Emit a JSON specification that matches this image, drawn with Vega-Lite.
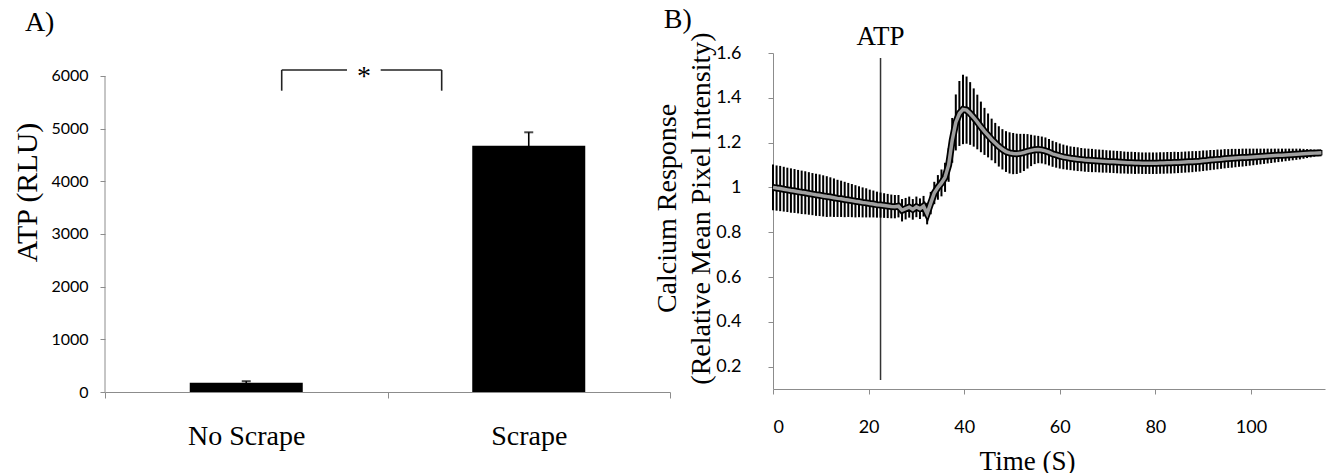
{
"$schema": "https://vega.github.io/schema/vega-lite/v6.json",
"background": "white",
"padding": {"left": 12, "top": 6, "right": 0, "bottom": 0},
"spacing": -18,
"config": {
  "view": {"stroke": null},
  "font": "Liberation Serif",
  "axis": {"grid": false, "domainColor": "#8c8c8c", "tickColor": "#8c8c8c", "labelColor": "black", "titleColor": "black", "labelFont": "Lato", "titleFont": "Liberation Serif", "titleFontWeight": "normal"},
  "title": {"font": "Liberation Serif", "fontWeight": "normal", "fontSize": 28, "anchor": "start", "color": "black"}
},
"datasets": {
  "bars": [{"c": "No Scrape", "v": 175, "e": 30}, {"c": "Scrape", "v": 4677, "e": 254}],
  "axisline": [{"x": 0, "y": 0, "y2": 6000}],
  "bracket": [
    {"x": 0.6255, "x2": 0.8566, "y": 6114, "y2": 6114},
    {"x": 0.9759, "x2": 1.1918, "y": 6114, "y2": 6114},
    {"x": 0.6255, "x2": 0.6255, "y": 5721, "y2": 6114},
    {"x": 1.1918, "x2": 1.1918, "y": 5721, "y2": 6114}
  ],
  "star": [{"x": 0.9168, "y": 6057, "s": "*"}],
  "atp": [{"t": 22.5, "lo": 0.14, "hi": 1.578, "top": 1.6, "label": "ATP"}],
  "series": [
    {"t":0,"m":1.000,"e":0.102},{"t":0.75,"m":0.997,"e":0.101},{"t":1.5,"m":0.995,"e":0.101},{"t":2.25,"m":0.992,"e":0.100},
    {"t":3,"m":0.989,"e":0.099},{"t":3.75,"m":0.986,"e":0.099},{"t":4.5,"m":0.984,"e":0.098},{"t":5.25,"m":0.981,"e":0.097},
    {"t":6,"m":0.978,"e":0.097},{"t":6.75,"m":0.976,"e":0.096},{"t":7.5,"m":0.973,"e":0.095},{"t":8.25,"m":0.970,"e":0.094},
    {"t":9,"m":0.967,"e":0.094},{"t":9.75,"m":0.965,"e":0.093},{"t":10.5,"m":0.962,"e":0.092},{"t":11.25,"m":0.959,"e":0.091},
    {"t":12,"m":0.957,"e":0.088},{"t":12.75,"m":0.954,"e":0.086},{"t":13.5,"m":0.951,"e":0.083},{"t":14.25,"m":0.949,"e":0.081},
    {"t":15,"m":0.946,"e":0.079},{"t":15.75,"m":0.944,"e":0.076},{"t":16.5,"m":0.941,"e":0.074},{"t":17.25,"m":0.938,"e":0.072},
    {"t":18,"m":0.936,"e":0.069},{"t":18.75,"m":0.933,"e":0.067},{"t":19.5,"m":0.931,"e":0.065},{"t":20.25,"m":0.928,"e":0.062},
    {"t":21,"m":0.926,"e":0.060},{"t":21.75,"m":0.923,"e":0.058},{"t":22.5,"m":0.921,"e":0.056},{"t":23.25,"m":0.919,"e":0.055},
    {"t":24,"m":0.917,"e":0.054},{"t":24.75,"m":0.915,"e":0.053},{"t":25.5,"m":0.914,"e":0.052},{"t":26.25,"m":0.916,"e":0.050},
    {"t":27,"m":0.898,"e":0.050},{"t":27.75,"m":0.905,"e":0.048},{"t":28.5,"m":0.912,"e":0.047},{"t":29.25,"m":0.902,"e":0.046},
    {"t":30,"m":0.913,"e":0.046},{"t":30.75,"m":0.905,"e":0.046},{"t":31.5,"m":0.916,"e":0.046},{"t":32.25,"m":0.883,"e":0.048},
    {"t":33,"m":0.930,"e":0.050},{"t":33.75,"m":0.975,"e":0.050},{"t":34.5,"m":1.000,"e":0.055},{"t":35.25,"m":1.020,"e":0.060},
    {"t":36,"m":1.045,"e":0.065},{"t":36.75,"m":1.100,"e":0.075},{"t":37.5,"m":1.210,"e":0.100},{"t":38.25,"m":1.290,"e":0.125},
    {"t":39,"m":1.330,"e":0.145},{"t":39.75,"m":1.348,"e":0.155},{"t":40.5,"m":1.345,"e":0.150},{"t":41.25,"m":1.330,"e":0.140},
    {"t":42,"m":1.312,"e":0.130},{"t":42.75,"m":1.292,"e":0.122},{"t":43.5,"m":1.270,"e":0.113},{"t":44.25,"m":1.250,"e":0.105},
    {"t":45,"m":1.232,"e":0.098},{"t":45.75,"m":1.214,"e":0.093},{"t":46.5,"m":1.198,"e":0.090},{"t":47.25,"m":1.183,"e":0.090},
    {"t":48,"m":1.170,"e":0.090},{"t":48.75,"m":1.160,"e":0.091},{"t":49.5,"m":1.154,"e":0.092},{"t":50.25,"m":1.151,"e":0.092},
    {"t":51,"m":1.150,"e":0.090},{"t":51.75,"m":1.152,"e":0.087},{"t":52.5,"m":1.156,"e":0.083},{"t":53.25,"m":1.161,"e":0.077},
    {"t":54,"m":1.165,"e":0.070},{"t":54.75,"m":1.168,"e":0.064},{"t":55.5,"m":1.169,"e":0.061},{"t":56.25,"m":1.167,"e":0.060},
    {"t":57,"m":1.163,"e":0.060},{"t":57.75,"m":1.157,"e":0.059},{"t":58.5,"m":1.150,"e":0.058},{"t":59.25,"m":1.145,"e":0.057},
    {"t":60,"m":1.140,"e":0.056},{"t":60.75,"m":1.136,"e":0.055},{"t":61.5,"m":1.133,"e":0.054},{"t":62.25,"m":1.130,"e":0.053},
    {"t":63,"m":1.128,"e":0.053},{"t":63.75,"m":1.126,"e":0.053},{"t":64.5,"m":1.124,"e":0.052},{"t":65.25,"m":1.122,"e":0.052},
    {"t":66,"m":1.121,"e":0.052},{"t":66.75,"m":1.120,"e":0.052},{"t":67.5,"m":1.119,"e":0.051},{"t":68.25,"m":1.118,"e":0.051},
    {"t":69,"m":1.117,"e":0.051},{"t":69.75,"m":1.116,"e":0.050},{"t":70.5,"m":1.115,"e":0.050},{"t":71.25,"m":1.114,"e":0.050},
    {"t":72,"m":1.113,"e":0.050},{"t":72.75,"m":1.112,"e":0.050},{"t":73.5,"m":1.111,"e":0.049},{"t":74.25,"m":1.110,"e":0.049},
    {"t":75,"m":1.110,"e":0.049},{"t":75.75,"m":1.109,"e":0.049},{"t":76.5,"m":1.109,"e":0.048},{"t":77.25,"m":1.108,"e":0.048},
    {"t":78,"m":1.108,"e":0.048},{"t":78.75,"m":1.108,"e":0.048},{"t":79.5,"m":1.108,"e":0.048},{"t":80.25,"m":1.108,"e":0.048},
    {"t":81,"m":1.109,"e":0.048},{"t":81.75,"m":1.109,"e":0.048},{"t":82.5,"m":1.110,"e":0.048},{"t":83.25,"m":1.110,"e":0.048},
    {"t":84,"m":1.111,"e":0.048},{"t":84.75,"m":1.111,"e":0.047},{"t":85.5,"m":1.112,"e":0.047},{"t":86.25,"m":1.113,"e":0.047},
    {"t":87,"m":1.114,"e":0.047},{"t":87.75,"m":1.115,"e":0.047},{"t":88.5,"m":1.116,"e":0.046},{"t":89.25,"m":1.117,"e":0.046},
    {"t":90,"m":1.119,"e":0.046},{"t":90.75,"m":1.120,"e":0.045},{"t":91.5,"m":1.122,"e":0.045},{"t":92.25,"m":1.123,"e":0.044},
    {"t":93,"m":1.125,"e":0.044},{"t":93.75,"m":1.126,"e":0.043},{"t":94.5,"m":1.128,"e":0.043},{"t":95.25,"m":1.129,"e":0.042},
    {"t":96,"m":1.130,"e":0.042},{"t":96.75,"m":1.131,"e":0.041},{"t":97.5,"m":1.132,"e":0.040},{"t":98.25,"m":1.133,"e":0.040},
    {"t":99,"m":1.134,"e":0.039},{"t":99.75,"m":1.135,"e":0.038},{"t":100.5,"m":1.136,"e":0.037},{"t":101.25,"m":1.137,"e":0.036},
    {"t":102,"m":1.138,"e":0.035},{"t":102.75,"m":1.139,"e":0.034},{"t":103.5,"m":1.140,"e":0.033},{"t":104.25,"m":1.141,"e":0.032},
    {"t":105,"m":1.142,"e":0.031},{"t":105.75,"m":1.143,"e":0.030},{"t":106.5,"m":1.144,"e":0.029},{"t":107.25,"m":1.145,"e":0.028},
    {"t":108,"m":1.146,"e":0.027},{"t":108.75,"m":1.147,"e":0.026},{"t":109.5,"m":1.148,"e":0.025},{"t":110.25,"m":1.149,"e":0.024},
    {"t":111,"m":1.150,"e":0.022},{"t":111.75,"m":1.151,"e":0.020},{"t":112.5,"m":1.152,"e":0.018},{"t":113.25,"m":1.153,"e":0.016},
    {"t":114,"m":1.154,"e":0.014},{"t":114.75,"m":1.155,"e":0.012}
  ]
},
"hconcat": [
  {
    "width": 565, "height": 339,
    "title": {"text": "A)", "offset": 16, "dx": 12},
    "layer": [
      {
        "data": {"name": "bars"},
        "mark": {"type": "bar", "color": "black", "width": {"band": 0.4}},
        "encoding": {
          "x": {"field": "c", "type": "nominal", "sort": null, "title": null,
                "scale": {"paddingInner": 0, "paddingOuter": 0},
                "axis": {"tickBand": "extent", "tickSize": 6, "labelFont": "Liberation Serif", "labelFontSize": 28, "labelPadding": 24, "labelAngle": 0}},
          "y": {"field": "v", "type": "quantitative", "title": "ATP (RLU)",
                "scale": {"domain": [0, 6436.7], "nice": false},
                "axis": {"values": [0, 1000, 2000, 3000, 4000, 5000, 6000], "format": "d", "domain": false, "tickSize": 5, "labelPadding": 12, "labelFontSize": 16, "titleFontSize": 30, "titlePadding": 8, "titleY": 139}}
        }
      },
      {
        "data": {"name": "axisline"},
        "mark": {"type": "rule", "color": "#8c8c8c", "strokeWidth": 1},
        "encoding": {
          "x": {"field": "x", "type": "quantitative", "scale": {"domain": [0, 2], "nice": false}, "axis": null},
          "y": {"field": "y", "type": "quantitative", "title": "ATP (RLU)", "scale": {"domain": [0, 6436.7], "nice": false}},
          "y2": {"field": "y2"}
        }
      },
      {
        "data": {"name": "bars"},
        "mark": {"type": "errorbar", "color": "black", "thickness": 1.6, "ticks": {"size": 9, "thickness": 2}},
        "encoding": {
          "x": {"field": "c", "type": "nominal", "sort": null, "title": null, "scale": {"paddingInner": 0, "paddingOuter": 0}, "axis": null},
          "y": {"field": "v", "type": "quantitative", "title": "ATP (RLU)", "scale": {"domain": [0, 6436.7], "nice": false}},
          "yError": {"field": "e"}
        }
      },
      {
        "data": {"name": "bracket"},
        "mark": {"type": "rule", "color": "#222222", "strokeWidth": 1.6},
        "encoding": {
          "x": {"field": "x", "type": "quantitative", "scale": {"domain": [0, 2], "nice": false}, "axis": null},
          "x2": {"field": "x2"},
          "y": {"field": "y", "type": "quantitative", "title": "ATP (RLU)", "scale": {"domain": [0, 6436.7], "nice": false}},
          "y2": {"field": "y2"}
        }
      },
      {
        "data": {"name": "star"},
        "mark": {"type": "text", "font": "Liberation Serif", "fontSize": 28, "baseline": "middle", "dy": 4},
        "encoding": {
          "x": {"field": "x", "type": "quantitative", "scale": {"domain": [0, 2], "nice": false}, "axis": null},
          "y": {"field": "y", "type": "quantitative", "title": "ATP (RLU)", "scale": {"domain": [0, 6436.7], "nice": false}},
          "text": {"field": "s"}
        }
      }
    ],
    "resolve": {"scale": {"x": "independent"}}
  },
  {
    "width": 552, "height": 336,
    "title": {"text": "B)", "offset": -11, "dx": 10},
    "layer": [
      {
        "data": {"name": "atp"},
        "mark": {"type": "rule", "color": "#333333", "strokeWidth": 1.5},
        "encoding": {
          "x": {"field": "t", "type": "quantitative", "title": "Time (S)",
                "scale": {"domain": [0, 115.5], "nice": false},
                "axis": {"values": [0, 20, 40, 60, 80, 100], "tickSize": 5, "labelFontSize": 18, "labelPadding": 24, "titleFontSize": 27, "titlePadding": 12, "titleX": 254}},
          "y": {"field": "lo", "type": "quantitative", "title": ["Calcium Response", "(Relative Mean Pixel Intensity)"],
                "scale": {"domain": [0.1, 1.6], "nice": false},
                "axis": {"values": [0.2, 0.4, 0.6, 0.8, 1, 1.2, 1.4, 1.6], "format": "~g", "tickSize": 5, "labelFontSize": 18, "labelPadding": 27, "titleFontSize": 28, "titleLineHeight": 34, "titlePadding": 0, "titleY": 155}},
          "y2": {"field": "hi"}
        }
      },
      {
        "data": {"name": "atp"},
        "mark": {"type": "text", "font": "Liberation Serif", "fontSize": 27, "baseline": "alphabetic", "dy": -8},
        "encoding": {
          "x": {"field": "t", "type": "quantitative", "title": "Time (S)"},
          "y": {"field": "top", "type": "quantitative", "title": ["Calcium Response", "(Relative Mean Pixel Intensity)"]},
          "text": {"field": "label"}
        }
      },
      {
        "data": {"name": "series"},
        "mark": {"type": "errorbar", "color": "black", "thickness": 2, "ticks": false},
        "encoding": {
          "x": {"field": "t", "type": "quantitative", "title": "Time (S)"},
          "y": {"field": "m", "type": "quantitative", "title": ["Calcium Response", "(Relative Mean Pixel Intensity)"]},
          "yError": {"field": "e"}
        }
      },
      {
        "data": {"name": "series"},
        "mark": {"type": "line", "color": "black", "strokeWidth": 7},
        "encoding": {
          "x": {"field": "t", "type": "quantitative", "title": "Time (S)"},
          "y": {"field": "m", "type": "quantitative", "title": ["Calcium Response", "(Relative Mean Pixel Intensity)"]}
        }
      },
      {
        "data": {"name": "series"},
        "mark": {"type": "line", "color": "#a0a0a0", "strokeWidth": 3.5},
        "encoding": {
          "x": {"field": "t", "type": "quantitative", "title": "Time (S)"},
          "y": {"field": "m", "type": "quantitative", "title": ["Calcium Response", "(Relative Mean Pixel Intensity)"]}
        }
      }
    ]
  }
]
}
